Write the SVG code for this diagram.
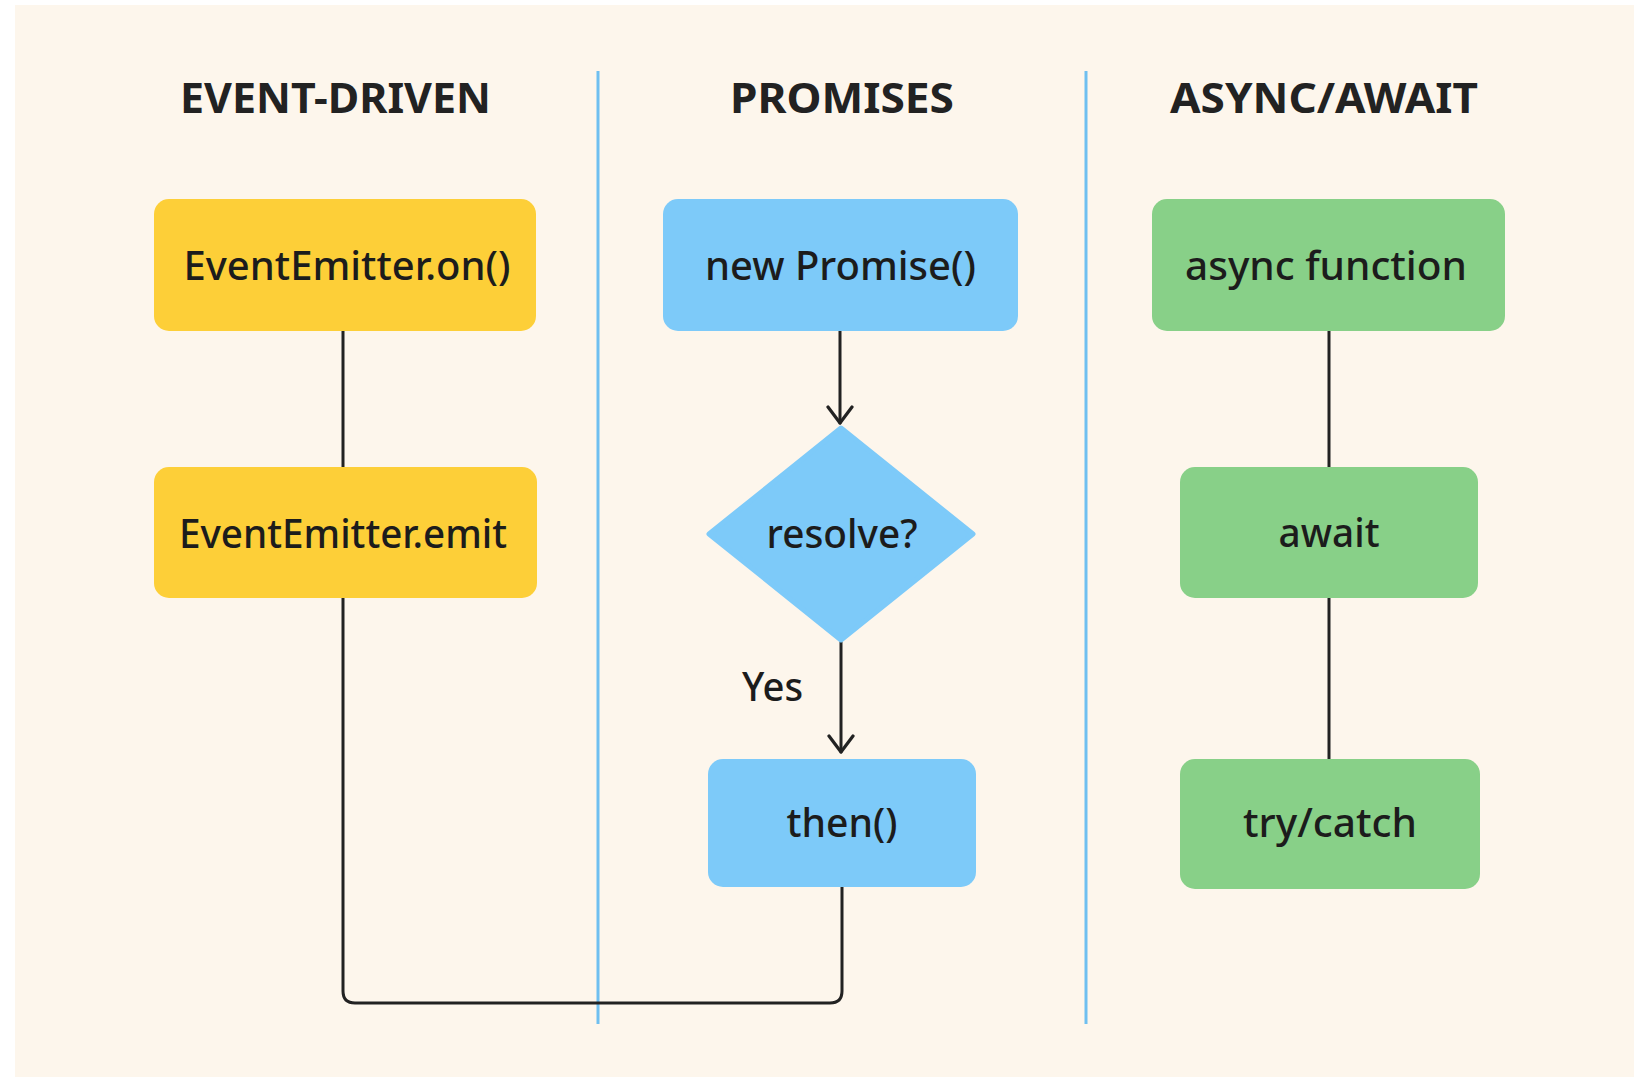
<svg xmlns="http://www.w3.org/2000/svg" width="1642" height="1077" viewBox="0 0 1642 1077">
  <style>
    .title { font-family: "Noto Sans", "Liberation Sans", sans-serif; font-weight: 700; font-size: 42px; fill: #222222; text-anchor: middle; }
    .label { font-family: "Noto Sans", "Liberation Sans", sans-serif; font-weight: 500; font-size: 40px; fill: #1c1c1c; text-anchor: middle; }
    .yellow { fill: #fdcf38; }
    .blue { fill: #7dcaf9; }
    .green { fill: #88d088; }
    .divider { stroke: #6fbff0; stroke-width: 3; fill: none; }
    .wire { stroke: #222222; stroke-width: 3; fill: none; stroke-linecap: round; stroke-linejoin: round; }
  </style>
  <defs>
    <!-- open chevron arrowhead, drawn pointing along +x so orient="auto" follows the line -->
    <marker id="chevron" viewBox="0 0 20 28" refX="18" refY="14" markerWidth="20" markerHeight="28" markerUnits="userSpaceOnUse" orient="auto">
      <path d="M2 2 L18 14 L2 26" fill="none" stroke="#222222" stroke-width="3.2" stroke-linecap="round" stroke-linejoin="round"/>
    </marker>
  </defs>

  <!-- canvas -->
  <rect x="0" y="0" width="1642" height="1077" fill="#ffffff"/>
  <rect x="15" y="5" width="1619" height="1072" fill="#fdf6ec"/>

  <!-- column dividers -->
  <g id="dividers">
    <line class="divider" x1="598" y1="71" x2="598" y2="1024"/>
    <line class="divider" x1="1086" y1="71" x2="1086" y2="1024"/>
  </g>

  <!-- column headings -->
  <g id="headings">
    <text class="title" x="335.5" y="113" textLength="311" lengthAdjust="spacingAndGlyphs">EVENT-DRIVEN</text>
    <text class="title" x="842" y="113" textLength="224" lengthAdjust="spacingAndGlyphs">PROMISES</text>
    <text class="title" x="1324" y="113" textLength="308" lengthAdjust="spacingAndGlyphs">ASYNC/AWAIT</text>
  </g>

  <!-- connectors -->
  <g id="connectors">
    <path class="wire" d="M343 331 V467"/>
    <path class="wire" d="M343 598 V991 Q343 1003 355 1003 H830 Q842 1003 842 991 V887"/>
    <path class="wire" d="M840 331 V423" marker-end="url(#chevron)"/>
    <path class="wire" d="M841 642 V752" marker-end="url(#chevron)"/>
    <path class="wire" d="M1329 331 V467"/>
    <path class="wire" d="M1329 598 V759"/>
  </g>

  <!-- event-driven column -->
  <g id="node-on">
    <rect class="yellow" x="154" y="199" width="382" height="132" rx="15"/>
    <text class="label" x="347" y="280" textLength="327" lengthAdjust="spacingAndGlyphs">EventEmitter.on()</text>
  </g>
  <g id="node-emit">
    <rect class="yellow" x="154" y="467" width="383" height="131" rx="15"/>
    <text class="label" x="343" y="548" textLength="328" lengthAdjust="spacingAndGlyphs">EventEmitter.emit</text>
  </g>

  <!-- promises column -->
  <g id="node-promise">
    <rect class="blue" x="663" y="199" width="355" height="132" rx="15"/>
    <text class="label" x="840.5" y="280" textLength="271" lengthAdjust="spacingAndGlyphs">new Promise()</text>
  </g>
  <g id="node-resolve">
    <polygon class="blue" points="841,428 973,534 841,640 709,534" stroke="#7dcaf9" stroke-width="5" stroke-linejoin="round"/>
    <text class="label" x="842" y="548" textLength="151" lengthAdjust="spacingAndGlyphs">resolve?</text>
  </g>
  <g id="label-yes">
    <text class="label" x="772.5" y="701" textLength="61" lengthAdjust="spacingAndGlyphs">Yes</text>
  </g>
  <g id="node-then">
    <rect class="blue" x="708" y="759" width="268" height="128" rx="15"/>
    <text class="label" x="842" y="837" textLength="111" lengthAdjust="spacingAndGlyphs">then()</text>
  </g>

  <!-- async/await column -->
  <g id="node-async">
    <rect class="green" x="1152" y="199" width="353" height="132" rx="15"/>
    <text class="label" x="1326" y="280" textLength="282" lengthAdjust="spacingAndGlyphs">async function</text>
  </g>
  <g id="node-await">
    <rect class="green" x="1180" y="467" width="298" height="131" rx="15"/>
    <text class="label" x="1329" y="547" textLength="101" lengthAdjust="spacingAndGlyphs">await</text>
  </g>
  <g id="node-try">
    <rect class="green" x="1180" y="759" width="300" height="130" rx="15"/>
    <text class="label" x="1330" y="837" textLength="174" lengthAdjust="spacingAndGlyphs">try/catch</text>
  </g>
</svg>
